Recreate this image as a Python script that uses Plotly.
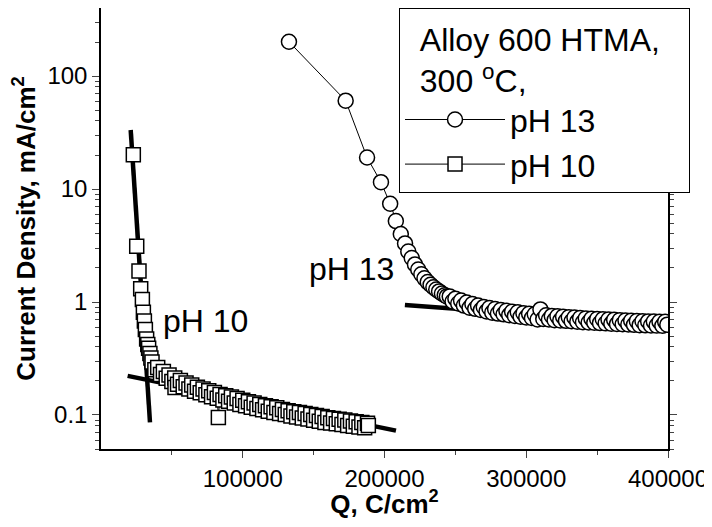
import plotly.graph_objects as go

# ---- data ----
q_ph13 = [132600, 172600, 187700, 197500, 204000, 208000, 211500, 214500, 216800, 219200,
          221500, 223800, 226000, 228200, 230500, 232500, 234500, 236500, 238500, 240500,
          242500, 244000, 246000, 248000, 250000, 252000, 254000, 256000, 258000, 260000,
          262000, 264000, 266000, 268000, 270000, 272000, 274000, 276000, 278000, 280000,
          282000, 284000, 286000, 288000, 290000, 292000, 294000, 296000, 298000, 300000,
          302000, 304000, 306000, 308000, 310000, 312000, 314000, 316000, 318000, 320000,
          322000, 324000, 326000, 328000, 330000, 332000, 334000, 336000, 338000, 340000,
          342000, 344000, 346000, 348000, 350000, 352000, 354000, 356000, 358000, 360000,
          362000, 364000, 366000, 368000, 370000, 372000, 374000, 376000, 378000, 380000,
          382000, 384000, 386000, 388000, 390000, 392000, 394000, 396000, 398000, 399500]
j_ph13 = [201, 60.5, 19.0, 11.5, 7.4, 5.2, 4.0, 3.3, 2.8, 2.45,
          2.15, 1.94, 1.76, 1.62, 1.5, 1.42, 1.35, 1.29, 1.24, 1.19,
          1.15, 1.12, 1.12, 1.01, 1.07, 0.97, 1.03, 0.93, 0.99, 0.89,
          0.96, 0.87, 0.93, 0.85, 0.905, 0.825, 0.885, 0.805, 0.865, 0.79,
          0.85, 0.778, 0.835, 0.765, 0.82, 0.753, 0.81, 0.741, 0.797, 0.73,
          0.786, 0.722, 0.778, 0.70, 0.86, 0.708, 0.763, 0.70, 0.753, 0.691,
          0.747, 0.687, 0.742, 0.681, 0.733, 0.675, 0.729, 0.67, 0.722, 0.662,
          0.716, 0.659, 0.711, 0.655, 0.707, 0.651, 0.703, 0.647, 0.699, 0.643,
          0.695, 0.639, 0.691, 0.636, 0.686, 0.632, 0.682, 0.628, 0.678, 0.624,
          0.675, 0.622, 0.673, 0.62, 0.671, 0.618, 0.669, 0.616, 0.667, 0.63]

q_ph10 = [22800, 25200, 26800, 28000, 29200, 29900, 30600, 31300, 32200, 33000,
          33600, 34500, 35200, 36000, 38000, 40000, 42000, 44000, 46000, 48000,
          50000, 52000, 52200, 54000, 56000, 58000, 60000, 62000, 64000, 66000,
          68000, 70000, 72000, 74000, 76000, 78000, 80000, 82000, 82800, 84000,
          86000, 88000, 90000, 92000, 94000, 96000, 98000, 100000, 102000, 104000,
          106000, 108000, 110000, 112000, 114000, 116000, 118000, 120000, 122000, 124000,
          126000, 128000, 130000, 132000, 134000, 136000, 138000, 140000, 142000, 144000,
          146000, 148000, 150000, 152000, 154000, 156000, 158000, 160000, 162000, 164000,
          166000, 168000, 170000, 172000, 174000, 176000, 178000, 180000, 182000, 184000,
          186000, 188000, 188600]
j_ph10 = [20.1, 3.12, 1.88, 1.31, 1.05, 0.81, 0.68, 0.57, 0.47, 0.42,
          0.39, 0.35, 0.32, 0.294, 0.252, 0.263, 0.228, 0.242, 0.211, 0.226,
          0.198, 0.212, 0.175, 0.187, 0.202, 0.178, 0.192, 0.170, 0.184, 0.162,
          0.176, 0.157, 0.170, 0.151, 0.164, 0.145, 0.158, 0.141, 0.095, 0.152,
          0.136, 0.148, 0.132, 0.144, 0.128, 0.140, 0.124, 0.135, 0.121, 0.131,
          0.117, 0.128, 0.114, 0.124, 0.111, 0.121, 0.108, 0.118, 0.105, 0.116,
          0.103, 0.112, 0.101, 0.109, 0.098, 0.107, 0.096, 0.105, 0.094, 0.103,
          0.092, 0.101, 0.090, 0.099, 0.088, 0.097, 0.086, 0.0945, 0.085, 0.0932,
          0.0836, 0.0916, 0.0822, 0.0901, 0.0808, 0.0885, 0.0794, 0.0872, 0.0782, 0.0858,
          0.077, 0.0845, 0.0806]

fit13_q = [214400, 408500]
fit13_j = [0.94, 0.625]
fit10a_q = [20950, 34570]
fit10a_j = [33.3, 0.086]
fit10b_q = [18800, 208100]
fit10b_j = [0.222, 0.0727]

x_ticks = [100000, 200000, 300000, 400000]
x_minor = [50000, 150000, 250000, 350000]

FONT = "Arial, Liberation Sans, Helvetica, sans-serif"

fig = go.Figure()

for fq, fj in [(fit13_q, fit13_j), (fit10a_q, fit10a_j), (fit10b_q, fit10b_j)]:
    fig.add_trace(go.Scatter(x=fq, y=fj, mode="lines", showlegend=False,
                             line=dict(color="black", width=4.5), hoverinfo="skip"))

fig.add_trace(go.Scatter(x=q_ph13, y=j_ph13, mode="lines+markers", name="pH 13",
                         line=dict(color="black", width=1),
                         marker=dict(symbol="circle", size=15, color="white",
                                     line=dict(color="black", width=1.5))))
fig.add_trace(go.Scatter(x=q_ph10, y=j_ph10, mode="lines+markers", name="pH 10",
                         line=dict(color="black", width=1),
                         marker=dict(symbol="square", size=14, color="white",
                                     line=dict(color="black", width=1.5))))

fig.add_annotation(x=177000, y=0.288, yref="y", text="pH 13", showarrow=False,
                   font=dict(family=FONT, size=32, color="black"))
fig.add_annotation(x=74000, y=-0.17, yref="y", text="pH 10", showarrow=False,
                   font=dict(family=FONT, size=32, color="black"))

fig.update_xaxes(range=[0, 400000], tickmode="array", tickvals=x_ticks,
                 tickformat="d", ticks="outside", ticklen=7, tickwidth=1,
                 showline=True, linecolor="black", linewidth=1.5, mirror="ticks",
                 showgrid=False, zeroline=False,
                 minor=dict(tickmode="array", tickvals=x_minor, ticks="outside",
                            ticklen=4, tickwidth=1, showgrid=False),
                 tickfont=dict(family=FONT, size=24, color="black"),
                 title=dict(text="<b>Q, C/cm<sup>2</sup></b>", standoff=6,
                            font=dict(family=FONT, size=26, color="black")))
fig.update_yaxes(type="log", range=[-1.301, 2.602], dtick=1,
                 ticks="outside", ticklen=7, tickwidth=1,
                 showline=True, linecolor="black", linewidth=1.5, mirror="ticks",
                 showgrid=False, zeroline=False,
                 minor=dict(ticks="outside", ticklen=4, tickwidth=1, showgrid=False),
                 tickfont=dict(family=FONT, size=24, color="black"),
                 title=dict(text="<b>Current Density, mA/cm<sup>2</sup></b>", standoff=10,
                            font=dict(family=FONT, size=26, color="black")))

# the page body adds an 8px offset: size and margins are reduced to keep
# the plot area where it sits in the reference without page scrolling
fig.update_layout(
    width=704, height=511,
    margin=dict(l=93, r=44, t=0, b=70, autoexpand=False),
    paper_bgcolor="white", plot_bgcolor="white",
    font=dict(family=FONT, color="black"),
    legend=dict(x=0.5256, y=1.0, xanchor="left", yanchor="top",
                bgcolor="white", bordercolor="black", borderwidth=1,
                font=dict(family=FONT, size=32, color="black"),
                title=dict(text="\u00a0\u00a0Alloy 600 HTMA,\u00a0\u00a0\u00a0<br>\u00a0\u00a0300 <sup>o</sup>C,",
                           font=dict(family=FONT, size=32, color="black")),
                itemwidth=100, tracegroupgap=0),
)

fig.write_html("out.html")
